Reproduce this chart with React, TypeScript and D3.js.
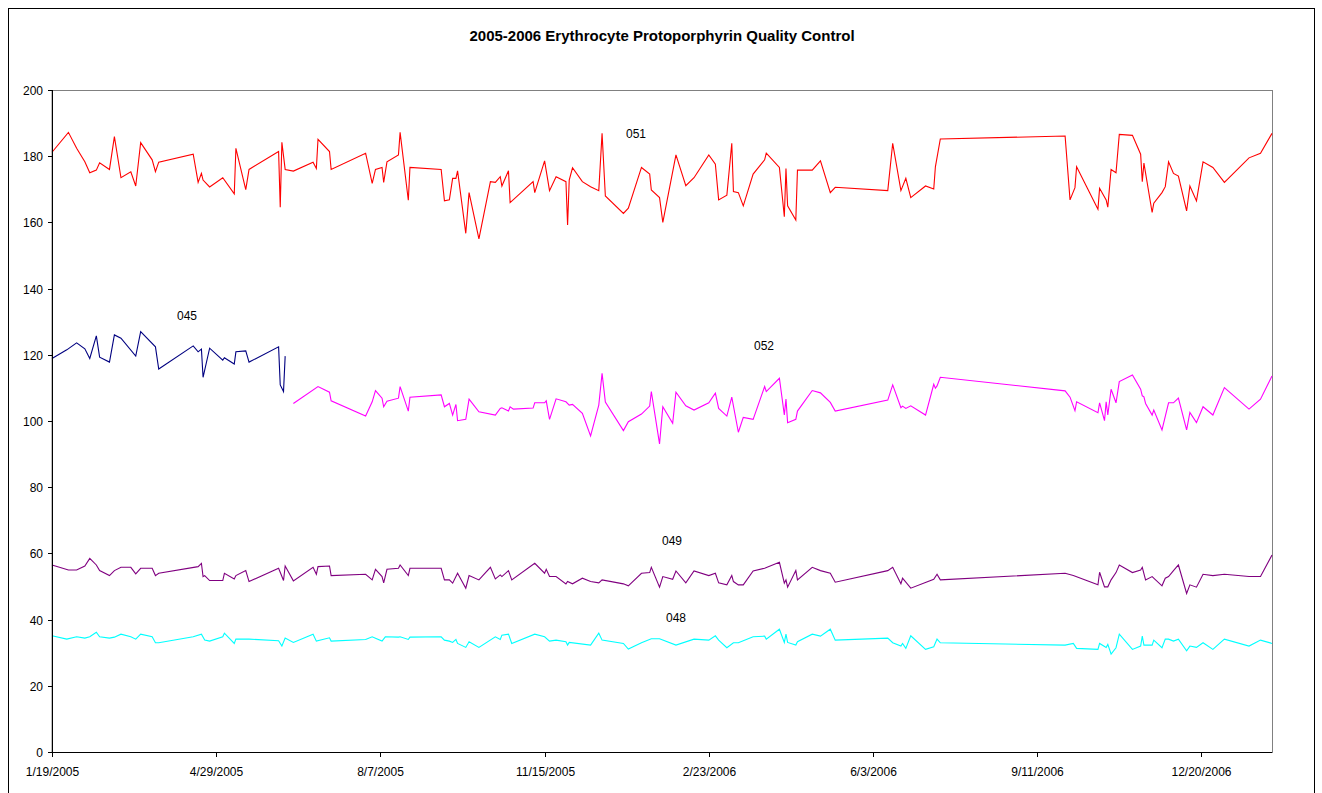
import * as d3 from 'd3'

// Run days are counted from the first QC run, 1/19/2005
const START = new Date(2005, 0, 19)
const LAST_DAY = 743

const yTicks = [0, 20, 40, 60, 80, 100, 120, 140, 160, 180, 200]
const xTickDays = [0, 100, 200, 300, 400, 500, 600, 700]

// [day, value]
const s051: [number, number][] = [
  [0, 181.2], [10, 187.2], [15, 182.4], [20, 178.3], [23, 175.0], [27, 175.8], [29, 178.0], [35, 176.0],
  [38, 185.9], [42, 173.5], [48, 175.3], [51, 171.0], [54, 184.1], [61, 178.9], [63, 175.3], [65, 178.2],
  [86, 180.6], [89, 172.1], [91, 174.8], [92, 172.8], [96, 170.7], [104, 173.5], [111, 168.6], [112, 182.4],
  [118, 169.9], [120, 176.0], [138, 181.4], [139, 164.6], [140, 184.2], [142, 176.0], [147, 175.5], [159, 178.2],
  [161, 176.3], [162, 185.1], [169, 181.4], [170, 176.0], [191, 180.9], [195, 171.8], [197, 176.0], [201, 176.6],
  [202, 172.1], [204, 178.3], [211, 180.4], [212, 187.2], [217, 166.7], [218, 176.6], [237, 176.0], [239, 166.5],
  [242, 166.8], [244, 173.3], [246, 173.3], [247, 175.6], [252, 156.7], [254, 169.0], [260, 155.0], [267, 172.3],
  [270, 172.1], [273, 173.8], [274, 171.0], [278, 175.6], [279, 166.0], [293, 172.3], [294, 169.0], [300, 178.6],
  [303, 169.6], [307, 173.8], [313, 172.3], [314, 159.2], [315, 172.8], [317, 176.5], [323, 172.3], [328, 170.8],
  [333, 169.6], [335, 186.9], [337, 168.0], [348, 162.7], [351, 164.3], [359, 176.6], [364, 174.6], [365, 169.8],
  [370, 167.5], [372, 160.0], [380, 180.4], [386, 171.1], [391, 173.5], [400, 180.4], [404, 177.6], [406, 166.8],
  [411, 168.2], [414, 183.9], [415, 169.3], [418, 169.0], [421, 165.0], [427, 174.6], [434, 178.9], [435, 180.9],
  [443, 176.6], [446, 161.7], [447, 176.3], [448, 165.0], [453, 160.7], [454, 175.8], [463, 175.8], [468, 178.6],
  [474, 169.0], [477, 170.6], [509, 169.6], [512, 183.9], [517, 169.6], [520, 173.3], [523, 167.5], [532, 171.0],
  [537, 170.1], [538, 176.8], [541, 185.2], [617, 186.1], [620, 166.8], [623, 170.5], [624, 176.8], [637, 164.0],
  [638, 170.3], [642, 166.8], [643, 164.6], [645, 176.0], [648, 175.0], [650, 186.6], [658, 186.3], [663, 180.6],
  [664, 172.3], [665, 177.9], [670, 163.0], [671, 165.8], [676, 169.0], [678, 170.8], [680, 178.3], [683, 174.8],
  [686, 174.0], [691, 163.5], [693, 171.0], [697, 166.5], [701, 178.3], [707, 176.6], [714, 172.1], [729, 179.5],
  [736, 180.9], [743, 186.9],
]

const s045: [number, number][] = [
  [0, 118.9], [9, 121.5], [15, 123.6], [20, 121.8], [23, 118.9], [27, 125.7], [29, 119.3], [35, 117.8],
  [38, 126.0], [42, 125.0], [51, 119.6], [54, 127.0], [63, 122.4], [65, 115.7], [86, 122.7], [89, 120.9],
  [91, 121.7], [92, 113.2], [96, 122.0], [104, 118.4], [105, 119.1], [111, 117.2], [112, 120.9], [118, 121.2],
  [120, 117.8], [138, 122.4], [139, 110.9], [141, 108.9], [142, 119.6],
]

const s052: [number, number][] = [
  [147, 105.3], [162, 110.4], [169, 108.7], [170, 106.1], [191, 101.5], [195, 105.8], [197, 109.2], [201, 106.9],
  [202, 104.3], [204, 106.0], [211, 106.9], [212, 110.4], [217, 103.0], [218, 107.2], [237, 107.9], [239, 104.3],
  [242, 105.3], [244, 101.8], [246, 105.0], [247, 100.1], [252, 100.5], [254, 106.6], [260, 102.8], [270, 101.8],
  [273, 103.8], [274, 104.0], [278, 103.0], [279, 104.3], [281, 103.6], [293, 103.9], [294, 105.5], [300, 105.5],
  [301, 106.1], [303, 100.5], [307, 106.7], [313, 105.8], [315, 104.8], [317, 105.0], [323, 102.3], [328, 95.5],
  [333, 104.8], [335, 114.4], [337, 105.7], [348, 97.1], [351, 99.8], [359, 102.1], [364, 104.5], [365, 108.9],
  [370, 93.1], [372, 104.3], [378, 99.3], [380, 108.7], [386, 104.6], [391, 103.3], [400, 105.5], [404, 108.4],
  [406, 103.8], [411, 101.5], [414, 107.2], [418, 96.6], [421, 101.1], [427, 100.5], [434, 110.4], [435, 108.9],
  [443, 112.9], [446, 101.8], [447, 106.6], [448, 99.5], [453, 100.5], [454, 103.0], [463, 109.2], [468, 108.5],
  [474, 105.6], [477, 103.0], [509, 106.3], [512, 110.9], [517, 104.0], [518, 104.5], [520, 103.8], [523, 104.6],
  [532, 101.8], [537, 111.1], [538, 109.9], [539, 110.6], [541, 113.2], [617, 109.1], [620, 107.2], [623, 103.1],
  [624, 105.8], [637, 102.5], [638, 105.5], [641, 100.1], [642, 105.8], [643, 101.8], [645, 109.6], [648, 105.5],
  [650, 111.9], [658, 113.9], [663, 109.6], [664, 107.6], [665, 107.3], [666, 105.3], [670, 101.8], [671, 103.3],
  [676, 97.3], [680, 105.5], [683, 105.5], [686, 106.9], [691, 97.3], [693, 102.6], [697, 99.5], [701, 104.3],
  [707, 101.8], [714, 110.1], [729, 103.6], [736, 106.6], [743, 113.6],
]

const s049: [number, number][] = [
  [0, 56.5], [10, 55.0], [15, 55.0], [20, 56.2], [23, 58.5], [27, 56.5], [29, 54.8], [35, 53.3],
  [38, 54.8], [42, 55.8], [48, 55.8], [51, 53.8], [54, 55.5], [61, 55.5], [63, 53.3], [65, 54.0],
  [89, 56.0], [91, 57.0], [92, 53.0], [93, 53.3], [96, 51.8], [104, 51.8], [105, 54.0], [111, 52.3],
  [112, 53.3], [118, 54.8], [120, 51.5], [138, 55.5], [141, 51.8], [142, 56.2], [147, 51.7], [159, 55.8],
  [161, 53.7], [162, 56.0], [169, 56.2], [170, 53.3], [191, 53.7], [195, 52.0], [197, 55.2], [201, 53.0],
  [202, 51.1], [204, 55.2], [211, 55.5], [212, 56.5], [217, 53.3], [218, 55.5], [237, 55.5], [239, 52.0],
  [242, 52.0], [244, 51.0], [247, 54.0], [252, 49.5], [254, 53.3], [260, 52.0], [267, 55.8], [270, 52.3],
  [273, 53.5], [274, 53.0], [278, 54.8], [280, 52.0], [294, 57.0], [300, 54.0], [301, 55.2], [303, 53.0],
  [307, 53.0], [313, 50.8], [314, 51.5], [317, 50.8], [323, 52.5], [328, 51.5], [333, 51.1], [335, 52.0],
  [348, 50.8], [351, 50.2], [359, 54.0], [364, 54.2], [365, 55.8], [370, 49.8], [372, 53.0], [378, 52.2],
  [380, 54.7], [386, 51.1], [391, 54.7], [400, 53.3], [404, 54.0], [406, 51.1], [411, 50.5], [414, 53.3],
  [415, 51.5], [418, 50.5], [421, 50.5], [427, 54.7], [434, 55.5], [443, 57.3], [446, 51.0], [447, 52.0],
  [448, 49.8], [453, 54.8], [454, 52.0], [463, 55.8], [468, 54.8], [474, 54.0], [477, 51.3], [509, 54.8],
  [512, 55.8], [517, 50.8], [518, 52.5], [523, 49.5], [537, 52.2], [539, 53.7], [541, 52.0], [617, 54.0],
  [622, 53.3], [637, 50.5], [638, 54.3], [641, 49.9], [643, 49.9], [645, 52.0], [648, 54.2], [650, 56.5],
  [658, 54.2], [663, 55.0], [664, 55.8], [666, 52.0], [670, 53.0], [676, 50.2], [678, 52.5], [680, 53.0],
  [683, 54.8], [686, 56.5], [691, 47.9], [693, 50.5], [697, 49.8], [701, 53.7], [707, 53.3], [714, 53.7],
  [729, 53.0], [736, 53.0], [743, 59.5],
]

const s048: [number, number][] = [
  [0, 35.1], [9, 34.1], [15, 34.8], [20, 34.4], [23, 34.8], [27, 36.2], [29, 34.8], [35, 34.4],
  [38, 34.7], [42, 35.6], [48, 34.8], [51, 34.1], [54, 35.6], [61, 34.8], [63, 33.0], [65, 33.0],
  [86, 34.8], [91, 35.6], [93, 33.8], [96, 33.5], [104, 34.8], [105, 35.9], [111, 32.8], [112, 34.1],
  [120, 34.1], [138, 33.6], [140, 32.0], [142, 34.4], [147, 33.1], [159, 35.6], [161, 33.5], [169, 34.5],
  [170, 33.5], [191, 34.0], [195, 34.8], [197, 34.4], [201, 33.5], [203, 34.8], [211, 34.7], [212, 34.8],
  [217, 34.0], [218, 34.7], [237, 34.8], [239, 33.8], [242, 33.5], [244, 33.1], [246, 34.0], [247, 32.8],
  [252, 31.6], [254, 33.3], [260, 31.6], [270, 34.8], [273, 34.0], [274, 35.3], [278, 35.6], [280, 32.8],
  [294, 35.6], [300, 34.8], [303, 33.5], [307, 33.8], [313, 33.3], [314, 32.3], [315, 33.1], [328, 32.3],
  [333, 35.9], [335, 33.8], [348, 32.8], [351, 31.1], [359, 33.0], [365, 34.2], [370, 34.2], [380, 32.3],
  [391, 34.1], [400, 33.8], [404, 35.1], [406, 33.8], [411, 31.5], [415, 33.0], [418, 33.0], [427, 34.8],
  [434, 35.0], [435, 34.1], [443, 37.1], [446, 33.1], [447, 35.6], [448, 33.1], [453, 32.3], [454, 33.3],
  [463, 35.6], [468, 35.0], [474, 37.1], [477, 33.8], [509, 34.4], [512, 33.0], [517, 32.0], [518, 32.8],
  [520, 31.3], [523, 35.1], [532, 31.0], [537, 31.8], [539, 34.1], [541, 33.0], [617, 32.3], [622, 32.8],
  [624, 31.3], [637, 31.0], [638, 32.8], [642, 31.6], [643, 32.5], [645, 29.6], [648, 31.5], [650, 35.6],
  [658, 31.0], [663, 32.0], [664, 35.0], [665, 32.3], [670, 32.3], [671, 33.8], [676, 31.5], [678, 34.1],
  [680, 34.1], [683, 33.5], [686, 34.1], [691, 30.6], [693, 32.0], [697, 31.6], [701, 33.0], [707, 31.0],
  [714, 34.1], [729, 32.0], [736, 33.8], [743, 32.8],
]

const series = [
  { name: '051', data: s051, color: '#FF0000', label: [636, 138] },
  { name: '045', data: s045, color: '#000080', label: [187, 320] },
  { name: '052', data: s052, color: '#FF00FF', label: [764, 350] },
  { name: '049', data: s049, color: '#800080', label: [672, 545] },
  { name: '048', data: s048, color: '#00FFFF', label: [676, 622] },
]

const W = 1322
const H = 793
const plot = { l: 52, r: 1272, t: 90, b: 752 }
const FONT = '"Liberation Sans", Arial, sans-serif'

const day = (d: number) => d3.timeDay.offset(START, d)

export default function App() {
  const x = d3.scaleTime().domain([day(0), day(LAST_DAY)]).range([plot.l, plot.r])
  const y = d3.scaleLinear().domain([0, 200]).range([plot.b, plot.t])
  const fmt = d3.timeFormat('%-m/%-d/%Y')

  const line = d3
    .line<[number, number]>()
    .x(d => x(day(d[0])))
    .y(d => y(d[1]))

  return (
    <svg
      width={W}
      height={H}
      style={{ position: 'absolute', left: 0, top: 0, background: '#fff' }}
      fontFamily={FONT}
    >
      {/* chart area frame */}
      <rect x={8.5} y={8.5} width={1306} height={790} fill="#fff" stroke="#000" strokeWidth={1} />

      <text x={662} y={41} textAnchor="middle" fontSize={15} fontWeight="bold">
        2005-2006 Erythrocyte Protoporphyrin Quality Control
      </text>

      {/* plot area border */}
      <rect
        x={plot.l}
        y={plot.t + 0.5}
        width={plot.r - plot.l + 0.5}
        height={plot.b - plot.t}
        fill="none"
        stroke="#808080"
        strokeWidth={1}
      />

      {series.map(s => (
        <path key={s.name} d={line(s.data) ?? ''} fill="none" stroke={s.color} strokeWidth={1.1} />
      ))}

      {/* y axis */}
      <line x1={plot.l + 0.5} x2={plot.l + 0.5} y1={plot.t} y2={plot.b} stroke="#000" />
      {yTicks.map(t => (
        <g key={t} transform={`translate(0,${Math.round(y(t)) + 0.5})`}>
          <line x1={plot.l - 4} x2={plot.l} stroke="#000" />
          <text x={plot.l - 9} dy="0.35em" textAnchor="end" fontSize={12}>
            {t}
          </text>
        </g>
      ))}

      {/* x axis */}
      <line x1={plot.l} x2={plot.r} y1={plot.b + 0.5} y2={plot.b + 0.5} stroke="#000" />
      {xTickDays.map(t => {
        const px = Math.round(x(day(t))) + 0.5
        return (
          <g key={t} transform={`translate(${px},0)`}>
            <line y1={plot.b} y2={plot.b + 5} stroke="#000" />
            <text y={plot.b + 24} textAnchor="middle" fontSize={12}>
              {fmt(day(t))}
            </text>
          </g>
        )
      })}

      {series.map(s => (
        <text key={s.name} x={s.label[0]} y={s.label[1]} textAnchor="middle" fontSize={12}>
          {s.name}
        </text>
      ))}
    </svg>
  )
}
